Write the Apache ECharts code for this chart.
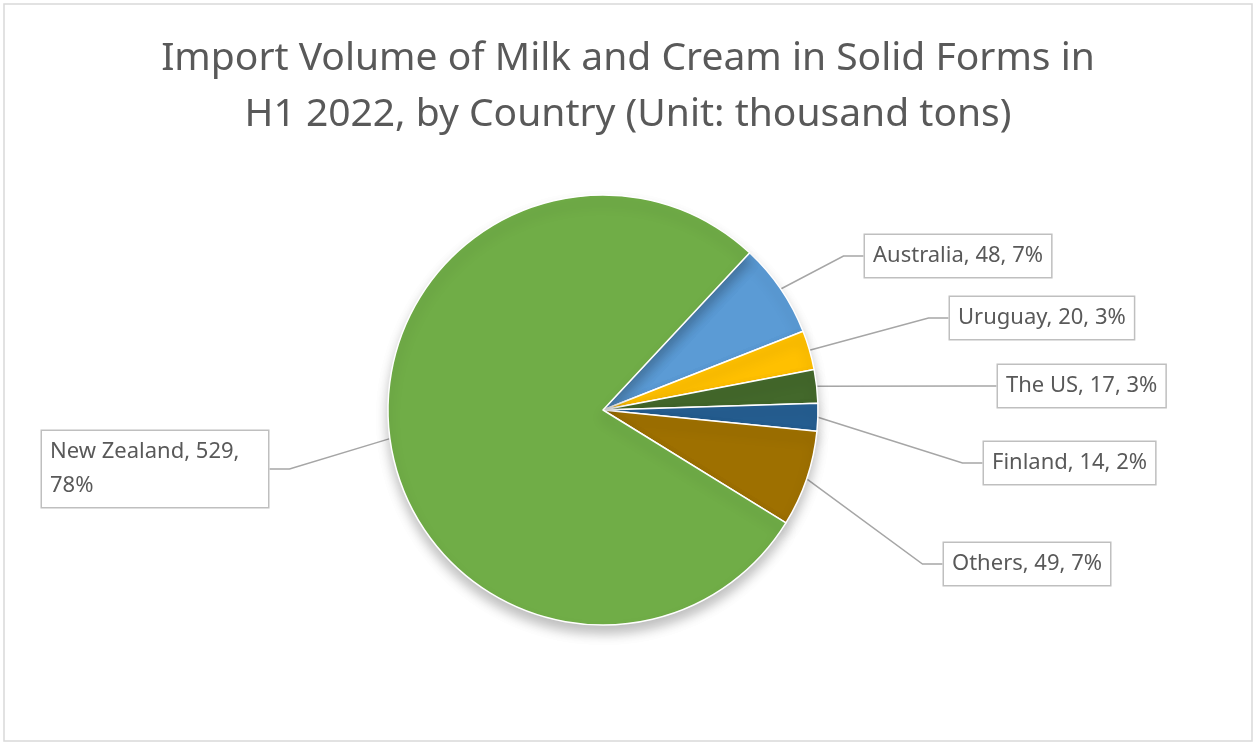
<!DOCTYPE html>
<html><head><meta charset="utf-8">
<script src="https://cdn.jsdelivr.net/npm/echarts@6/dist/echarts.min.js"></script>
<style>html,body{margin:0;padding:0;background:#fff}#c{width:1256px;height:745px}</style>
</head><body><div id="c"></div>
<script>
const categories = ['Australia','Uruguay','The US','Finland','Others','New Zealand'];
const values = [48,20,17,14,49,529];
const percents = ['7%','3%','3%','2%','7%','78%'];
const colors = ['#5B9BD5','#FFC000','#43682B','#255E91','#9E7000','#70AD47'];
const labelPos = [[865,256],[950,318],[998,386],[984,463],[944,564],[42,469]];
const labelText = categories.map((c,i)=> i===5 ? c+', '+values[i]+',\n'+percents[i] : c+', '+values[i]+', '+percents[i]);
const chart = echarts.init(document.getElementById('c'));
chart.setOption({
  backgroundColor:'#fff',
  graphic:[{type:'rect',shape:{x:4,y:4,width:1248,height:737},style:{fill:'none',stroke:'#d9d9d9',lineWidth:1.5}}],
  title:{text:'Import Volume of Milk and Cream in Solid Forms in\nH1 2022, by Country (Unit: thousand tons)',left:'center',top:26,
    textStyle:{fontFamily:'Noto Sans',fontSize:39,fontWeight:'normal',color:'#595959',lineHeight:56}},
  series:[{
    type:'pie', center:[603,410], radius:[0,215], startAngle:47, clockwise:true,
    itemStyle:{borderColor:'#fff',borderWidth:1.5,shadowBlur:12,shadowColor:'rgba(0,0,0,0.25)',shadowOffsetY:8},
    data:categories.map((c,i)=>({name:c,value:values[i],itemStyle:{color:colors[i]},
      label:{formatter:labelText[i], width: i===5?210:null, overflow:'none'}})),
    label:{show:true,position:'outside',fontFamily:'Noto Sans',fontSize:22,color:'#595959',lineHeight:34,
      backgroundColor:'#fff',borderColor:'#bfbfbf',borderWidth:1.5,padding:[4,8]},
    labelLine:{show:true,lineStyle:{color:'#a6a6a6',width:1.5},length:20,length2:20},
    labelLayout:function(p){const pos=labelPos[p.dataIndex];return {x:pos[0],y:pos[1],align:'left',verticalAlign:'middle',moveOverlap:null};},
    animation:false
  }]
});
</script></body></html>
